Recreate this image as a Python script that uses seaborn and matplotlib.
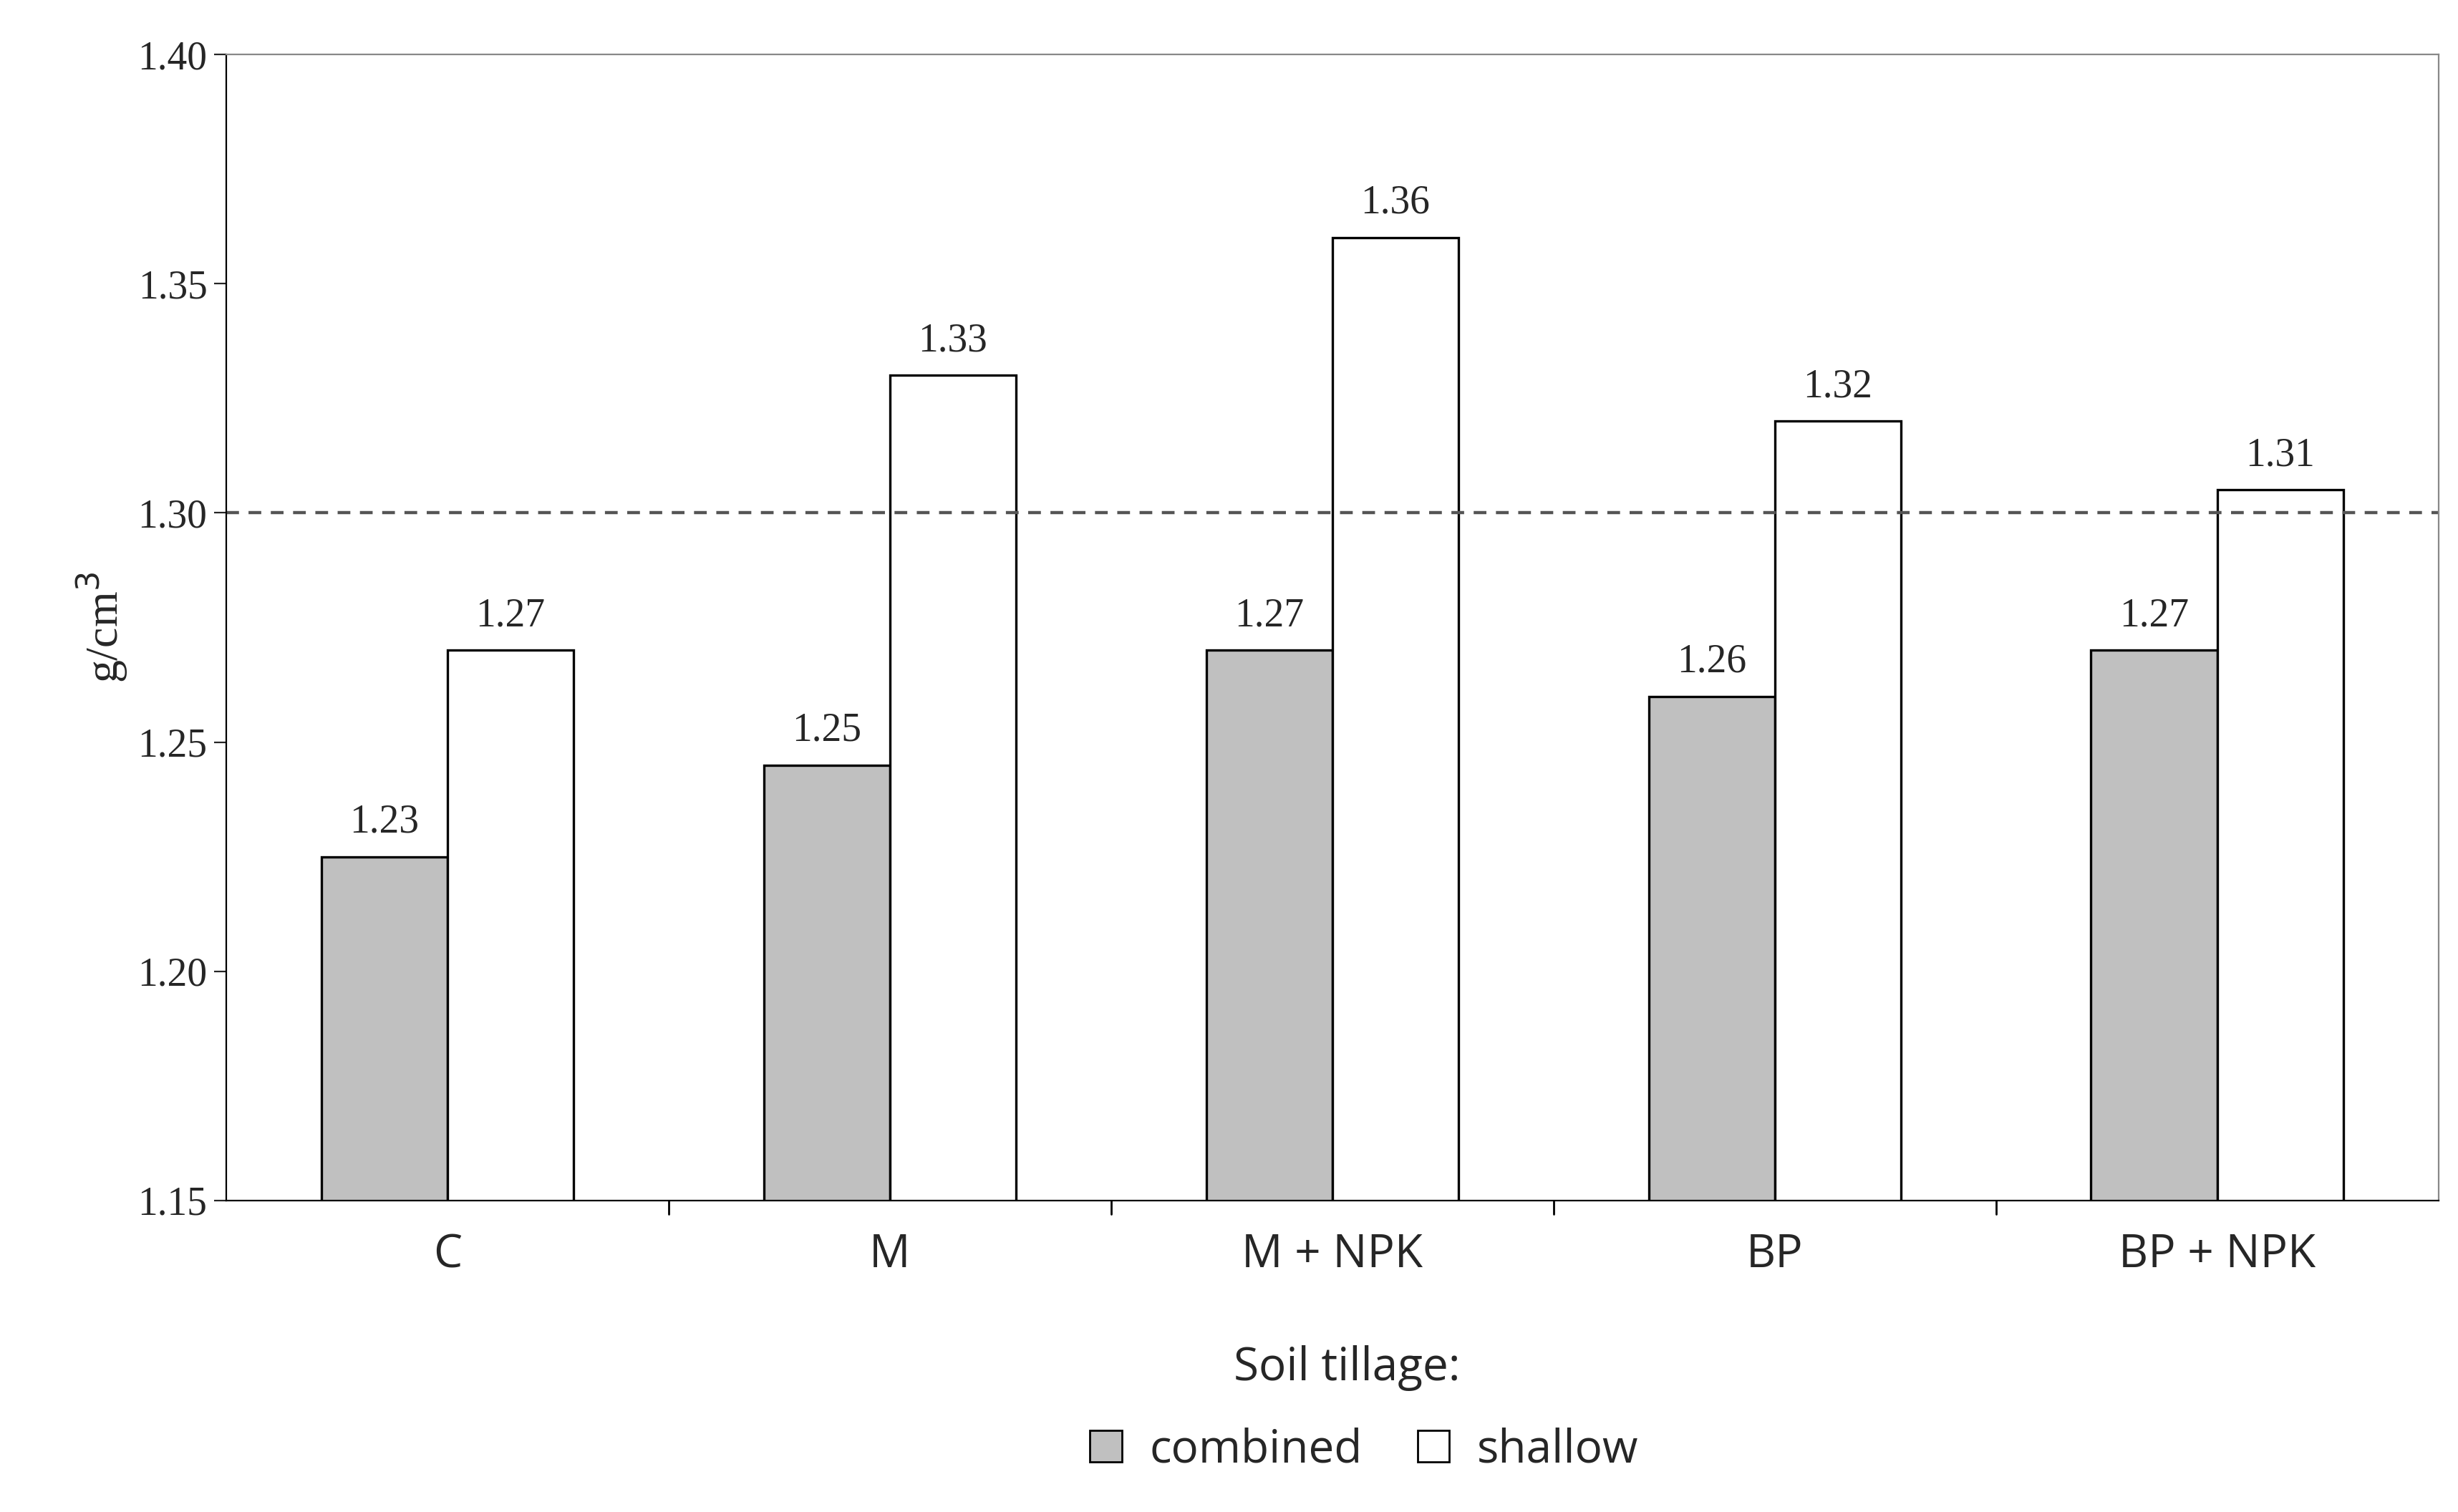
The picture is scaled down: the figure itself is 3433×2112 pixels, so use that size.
import matplotlib
matplotlib.use("Agg")
import matplotlib.pyplot as plt
import seaborn as sns
import pandas as pd
from matplotlib.patches import Patch

categories = ["C", "M", "M + NPK", "BP", "BP + NPK"]
combined = [1.225, 1.245, 1.27, 1.26, 1.27]
shallow = [1.27, 1.33, 1.36, 1.32, 1.305]
combined_labels = ["1.23", "1.25", "1.27", "1.26", "1.27"]
shallow_labels = ["1.27", "1.33", "1.36", "1.32", "1.31"]
series = ["combined", "shallow"]

df = pd.DataFrame({
    "cat": categories * 2,
    "val": combined + shallow,
    "tillage": ["combined"] * 5 + ["shallow"] * 5,
})

sns.set_style("white")
fig = plt.figure(figsize=(17.165, 10.56), dpi=200)
ax = fig.add_axes([0.092, 0.206, 0.9, 0.758])
sns.barplot(data=df, x="cat", y="val", hue="tillage", order=categories,
            hue_order=series, palette={"combined": "#c0c0c0", "shallow": "white"},
            width=0.57, edgecolor="black", linewidth=1.2, ax=ax, legend=False)

serif = "Liberation Serif"
for cont, labs in zip(ax.containers, [combined_labels, shallow_labels]):
    ax.bar_label(cont, labels=labs, padding=8, fontsize=20, family=serif)

ax.axhline(1.30, color="#555555", linestyle=(0, (4, 3)), linewidth=1.6)
ax.set_ylim(1.15, 1.40)
ax.set_xlim(-0.5, 4.5)
ax.set_yticks([1.15, 1.20, 1.25, 1.30, 1.35, 1.40])
ax.set_yticklabels([f"{v:.2f}" for v in [1.15, 1.20, 1.25, 1.30, 1.35, 1.40]],
                   family=serif, fontsize=20)
ax.set_xticks(range(5))
ax.set_xticklabels(categories, family="Open Sans", fontsize=23)
ax.tick_params(axis="x", length=0, pad=16)
ax.tick_params(axis="y", length=6, direction="out", left=True)
for b in [0.5, 1.5, 2.5, 3.5]:
    ax.plot([b, b], [1.15, 1.147], color="black", lw=1, clip_on=False)
for s in ax.spines.values():
    s.set_color("#888888")
ax.spines["left"].set_color("black")
ax.spines["bottom"].set_color("black")
ax.set_xlabel("")
ax.set_ylabel("g/cm$^3$", family=serif, fontsize=23)

fig.text(0.548, 0.095, "Soil tillage:", ha="center", va="center", family="Open Sans", fontsize=23)
handles = [Patch(facecolor="#c0c0c0", edgecolor="black"), Patch(facecolor="white", edgecolor="black")]
fig.legend(handles, series, loc="center", bbox_to_anchor=(0.555, 0.041), ncol=2,
           frameon=False, prop={"family": "Open Sans", "size": 23},
           handlelength=0.7, handleheight=0.7, columnspacing=1.2, handletextpad=0.6)

fig.savefig("out.png", dpi=200)
